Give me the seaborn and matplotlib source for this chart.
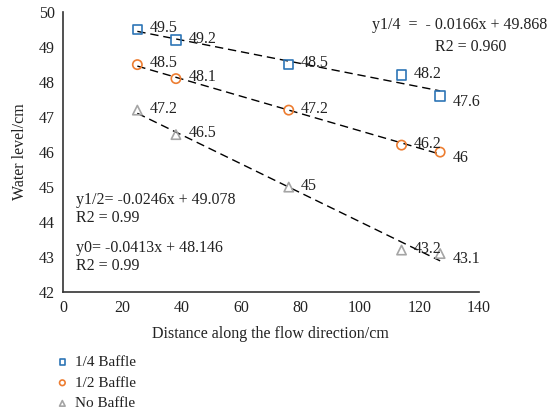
import numpy as np
import pandas as pd
import matplotlib
matplotlib.use('Agg')
import matplotlib.pyplot as plt
import seaborn as sns

distance = [25, 38, 76, 114, 127]
quarter = [49.5, 49.2, 48.5, 48.2, 47.6]
half = [48.5, 48.1, 47.2, 46.2, 46.0]
none = [47.2, 46.5, 45.0, 43.2, 43.1]
series_names = ['1/4 Baffle', '1/2 Baffle', 'No Baffle']
quarter_labels = ['49.5', '49.2', '48.5', '48.2', '47.6']
half_labels = ['48.5', '48.1', '47.2', '46.2', '46']
none_labels = ['47.2', '46.5', '45', '43.2', '43.1']

sns.set_style('white')
plt.rcParams['font.family'] = ['Liberation Serif', 'DejaVu Serif']

df = pd.DataFrame({
    'x': distance * 3,
    'y': quarter + half + none,
    'series': [series_names[0]] * 5 + [series_names[1]] * 5 + [series_names[2]] * 5,
})

colors = {'1/4 Baffle': '#2E75B6', '1/2 Baffle': '#ED7D31', 'No Baffle': '#A5A5A5'}
markers = {'1/4 Baffle': 's', '1/2 Baffle': 'o', 'No Baffle': '^'}
txt = '#222222'

fig = plt.figure(figsize=(5.49, 4.19), dpi=100)
ax = fig.add_axes([0.115, 0.303, 0.757, 0.668])

# dashed linear trendlines
for name in series_names:
    sub = df[df['series'] == name]
    sns.regplot(data=sub, x='x', y='y', ax=ax, scatter=False, ci=None,
                line_kws=dict(color='black', lw=1.0, ls=(0, (6, 3.5))))

for name in series_names:
    sub = df[df['series'] == name]
    ax.scatter(sub['x'], sub['y'], marker=markers[name], s=45,
               facecolors='none', edgecolors=colors[name], linewidths=1.2,
               label=name, zorder=3)

fs = 11.5
label_sets = [(quarter, quarter_labels), (half, half_labels), (none, none_labels)]
for vals, labs in label_sets:
    for i, (xv, yv, lab) in enumerate(zip(distance, vals, labs)):
        dy = -4 if i == 4 else 1
        ax.annotate(lab, (xv, yv), xytext=(9, dy), textcoords='offset points',
                    fontsize=fs, va='center', ha='left', color=txt)

ax.text(104, 49.63, 'y1/4  =  - 0.0166x + 49.868', fontsize=fs, va='center', color=txt)
ax.text(125.2, 49.0, 'R2 = 0.960', fontsize=fs, va='center', color=txt)
ax.text(4.4, 44.63, 'y1/2= -0.0246x + 49.078', fontsize=fs, va='center', color=txt)
ax.text(4.4, 44.11, 'R2 = 0.99', fontsize=fs, va='center', color=txt)
ax.text(4.4, 43.26, 'y0= -0.0413x + 48.146', fontsize=fs, va='center', color=txt)
ax.text(4.4, 42.74, 'R2 = 0.99', fontsize=fs, va='center', color=txt)

ax.set_xlim(0, 140)
ax.set_ylim(42, 50)
ax.set_xticks(range(0, 141, 20))
ax.set_yticks(range(42, 51, 1))
ax.tick_params(length=0, labelsize=fs, colors=txt, pad=6)
ax.set_xlabel('Distance along the flow direction/cm', fontsize=fs, color=txt, labelpad=7)
ax.set_ylabel('Water level/cm', fontsize=fs, color=txt, labelpad=8)
sns.despine(ax=ax)
for sp in ['left', 'bottom']:
    ax.spines[sp].set_color('#333333')
    ax.spines[sp].set_linewidth(1.2)

leg = ax.legend(loc='upper left', bbox_to_anchor=(-0.035, -0.205), frameon=False,
                fontsize=11, handletextpad=0.35, labelspacing=0.45,
                markerscale=0.6, handlelength=1.0, borderaxespad=0)
for t in leg.get_texts():
    t.set_color(txt)

fig.savefig('out.png', dpi=100)
